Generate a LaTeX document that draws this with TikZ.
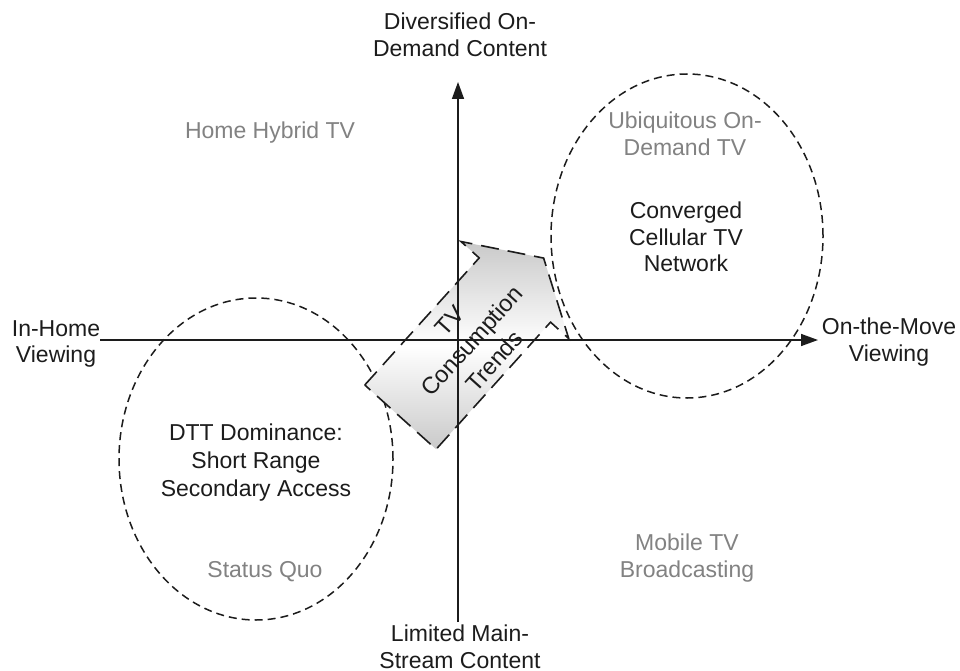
\documentclass[tikz,border=0pt]{standalone}
\usepackage{fontspec}
\setmainfont{Liberation Sans}
\usetikzlibrary{arrows.meta,shapes.geometric}

\definecolor{ink}{HTML}{1c1c1c}
\definecolor{soft}{HTML}{828282}

\tikzset{
  lbl/.style={font=\fontsize{23}{26.5}\selectfont, text=ink, align=center, inner sep=0pt, anchor=north},
  quad/.style={lbl, text=soft},
  axis/.style={line width=1.5pt, draw=ink, -{Triangle[length=17pt,width=12pt]}},
  zone/.style={ellipse, draw=ink, line width=1.5pt, dash pattern=on 8pt off 5pt, inner sep=0pt},
  trendfill/.style={top color=gray!42, bottom color=gray!42, middle color=white},
  trendline/.style={draw=ink, line width=1.6pt, dash pattern=on 18pt off 9pt},
}

\begin{document}
\begin{tikzpicture}[x=1pt, y=-1pt]
\useasboundingbox[fill=white] (0,0) rectangle (960,671);

% scenario regions
\node[zone, minimum width=274pt, minimum height=322pt] (sq) at (256,459) {};
\node[zone, minimum width=272pt, minimum height=324pt] (cc) at (687,236) {};

% trend arrow, drawn in its own rotated frame
\begin{scope}[shift={(367,387)}, rotate=48]
  \coordinate (t1) at (0,-3);
  \coordinate (t2) at (171,-3);
  \coordinate (t3) at (171,-27.5);
  \coordinate (tip) at (214,45);
  \coordinate (t5) at (171,117.5);
  \coordinate (t6) at (171,93);
  \coordinate (t7) at (0,93);
  \shade[trendfill] (t1) -- (t2) -- (t3) -- (tip) -- (t5) -- (t6) -- (t7) -- cycle;
  \draw[trendline] (t1) -- (t2) -- (t3) -- (tip) -- (t5) -- (t6) -- (t7) -- cycle;
\end{scope}
\node[font=\fontsize{23.5}{30}\selectfont, text=ink, align=center, inner sep=0pt, rotate=48]
  (trend) at (472,341) {TV\\Consumption\\Trends};

% axes
\coordinate (xl) at (100,340);
\coordinate (xr) at (818,340);
\coordinate (yb) at (458,622);
\coordinate (yt) at (458,82);
\draw[axis] (xl) -- (xr);
\draw[axis] (yb) -- (yt);

% axis labels
\node[lbl] (top) at (460,13) {Diversified On-\\Demand Content};
\node[lbl] (bottom) at (460,625) {Limited Main-\\Stream Content};
\node[lbl] (left) at (56,320) {In-Home\\Viewing};
\node[lbl] (right) at (889,318) {On-the-Move\\Viewing};

% quadrant names
\node[quad] (hybrid) at (270,122) {Home Hybrid TV};
\node[quad] (ubiq) at (685,112) {Ubiquitous On-\\Demand TV};
\node[quad] (status) at (265,561) {Status Quo};
\node[quad] (mobile) at (687,534) {Mobile TV\\Broadcasting};

% region descriptions
\node[lbl] (conv) at (686,202) {Converged\\Cellular TV\\Network};
\node[lbl, font=\fontsize{23}{28}\selectfont] (dtt) at (256,424) {DTT Dominance:\\Short Range\\Secondary Access};
\end{tikzpicture}
\end{document}
